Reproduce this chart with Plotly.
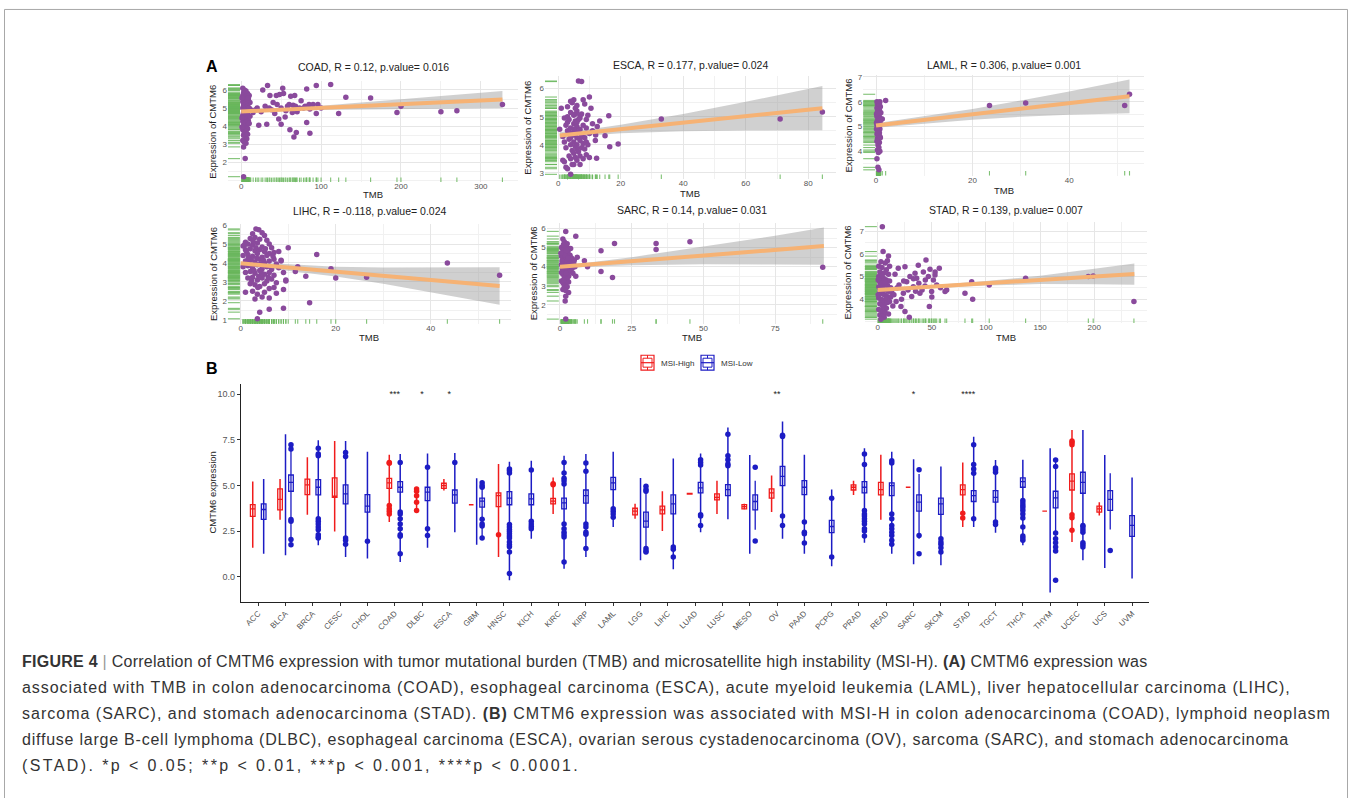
import plotly.graph_objects as go

W, H = 1352, 798

# ---------------- Panel A data (TMB, expression) ----------------
coad_pts = [(2,6.1),(4,6.0),(6,5.95),(3,5.85),(8,5.8),(5,5.75),(2,5.7),(7,5.65),(10,5.7),(4,5.6),(6,5.55),(3,5.5),(9,5.45),(5,5.4),(2,5.35),(7,5.3),(4,5.25),(11,5.3),(6,5.2),(3,5.15),(8,5.1),(5,5.05),(2,5.0),(7,4.95),(4,4.9),(9,4.85),(6,4.8),(3,4.75),(5,4.7),(8,4.65),(2,4.6),(6,4.55),(4,4.5),(7,4.45),(3,4.4),(5,4.35),(9,4.3),(2,4.25),(6,4.2),(4,4.1),(7,4.05),(3,4.0),(5,3.9),(8,3.85),(2,3.8),(6,3.7),(4,3.6),(3,3.5),(5,3.4),(7,3.3),(2,3.2),(4,3.1),(6,3.05),(3,2.85),(5,2.2),(3,1.2),
            (1,5.55),(10,5.0),(12,4.9),(1,4.45),(9,5.55),(11,4.55),(10,4.15),(1,3.95),(8,3.55),
            (15,4.75),(18,4.9),(20,5.0),(22,4.05),(25,4.8),(27,6.0),(30,5.1),(33,6.25),(32,4.1),(35,5.0),(36,5.7),(38,4.9),(40,5.3),(42,4.7),(44,5.7),(45,5.2),(47,4.4),(48,5.75),(50,4.1),(50,5.0),(52,6.1),(53,5.8),(55,4.5),(56,4.85),(58,5.1),(60,5.2),(61,3.8),(62,5.65),(64,4.75),(65,5.15),(66,3.4),(67,5.7),(68,5.1),(69,3.65),(70,4.8),(73,5.0),(75,5.4),(78,5.0),(80,5.1),(82,6.05),(82,4.2),(85,5.2),(86,4.95),(86,3.6),(90,5.2),(94,6.25),(94,4.7),(96,5.2),(100,5.0),(112,6.3),(122,4.7),(131,5.6),(162,5.55),(195,4.75),(200,5.1),(250,4.8),(270,4.85),(327,5.2)]
coad_fit_x = [0, 50, 100, 150, 200, 250, 327]
coad_fit_y = [4.81, 4.91, 5.01, 5.11, 5.21, 5.32, 5.47]
coad_ci_lo = [4.72, 4.83, 4.89, 4.91, 4.93, 4.96, 5.00]
coad_ci_hi = [4.90, 4.99, 5.13, 5.31, 5.49, 5.68, 5.94]

esca_pts = [(0.5,4.55),(1,5.3),(1.5,4.3),(2,3.4),(2,4.1),(2.5,4.7),(2.5,3.9),(3,3.15),(3,4.5),(3,5.0),(3.5,3.6),(3.5,4.2),(3.5,4.9),(4,2.95),(4,3.5),(4,4.0),(4,4.6),(4,5.15),(4.5,3.8),(4.5,4.4),(4.5,5.5),(5,3.3),(5,3.7),(5,4.1),(5,4.35),(5,4.75),(5,5.05),(5,5.6),(5.5,3.95),(5.5,4.5),(5.5,4.85),(5.5,5.3),(6,3.45),(6,4.0),(6,4.25),(6,4.65),(6,5.2),(6,5.4),(6.5,3.75),(6.5,4.45),(6.5,6.27),(7,3.6),(7,4.15),(7,4.55),(7,4.95),(7,5.05),(7.5,3.9),(7.5,4.3),(7.5,6.25),(8,3.5),(8,4.05),(8,4.7),(8,5.6),(8.5,4.25),(8.5,5.45),(9,3.65),(9,4.1),(9,4.6),(9.5,4.0),(10,5.7),(10,4.4),(10,3.55),(3,4.8),(2,4.95),(4.5,3.3),(5.5,3.55),(6.5,4.9),(7.5,5.1),(8.5,3.85),(3.5,4.45),(4,4.25),(5,4.55),(6,3.85),(7,3.3),(9,4.9),(11,4.5),(12,4.35),(12.5,4.65),(12.3,3.52),(13.3,4.85),(15,4.32),(11.9,4.15),(16.2,5.03),(16.5,3.93),(19.2,4.03),(33,4.92),(71,4.92),(84.5,5.17),(2.5,3.2),(1.5,3.45),(3,5.35),(4,5.55),(5.5,5.1),(6,4.8),(9.5,5.05),(11,4.75),(10.5,5.3)]
esca_fit_x = [0.5, 10, 20, 40, 60, 84.5]
esca_fit_y = [4.33, 4.44, 4.56, 4.79, 5.02, 5.30]
esca_ci_lo = [4.20, 4.33, 4.41, 4.48, 4.51, 4.52]
esca_ci_hi = [4.46, 4.55, 4.71, 5.10, 5.53, 6.09]

laml_pts = [(0.2,6.0),(0.5,5.95),(0.8,6.0),(0.3,5.9),(0.6,5.85),(0.9,5.8),(0.2,5.75),(0.5,5.7),(0.7,5.65),(0.3,5.6),(1.0,5.55),(0.4,5.5),(0.6,5.45),(0.2,5.4),(0.8,5.35),(0.5,5.3),(1.3,5.3),(0.3,5.25),(0.7,5.2),(0.4,5.15),(0.9,5.1),(0.2,5.05),(0.6,5.0),(0.4,4.95),(0.8,4.9),(0.3,4.85),(0.5,4.8),(0.7,4.75),(0.2,4.7),(0.6,4.65),(0.4,4.6),(0.9,4.55),(0.3,4.5),(0.5,4.45),(0.7,4.35),(0.4,4.25),(0.6,4.15),(0.3,4.05),(0.8,4.0),(0.5,3.95),(0.2,3.7),(0.4,3.35),(0.6,3.25),(2.0,6.05),(23.5,5.85),(31,5.95),(51.5,5.85),(52.5,6.3),(0.1,5.5),(0.9,5.25),(0.1,4.9),(0.8,4.6),(0.2,4.4),(0.7,5.9),(0.1,5.15),(0.5,5.55),(0.35,4.75),(0.65,5.1)]
laml_fit_x = [0, 10, 20, 30, 40, 52.5]
laml_fit_y = [5.04, 5.27, 5.49, 5.72, 5.94, 6.22]
laml_ci_lo = [4.95, 5.12, 5.27, 5.39, 5.47, 5.53]
laml_ci_hi = [5.13, 5.42, 5.71, 6.05, 6.41, 6.90]

lihc_pts = [(3.2,5.8),(3.8,5.75),(2.5,5.55),(4.5,5.6),(5,5.45),(1,5.1),(2,5.3),(3,5.35),(4,5.25),(5.5,5.2),(6,5.0),(0.5,4.9),(1.5,5.0),(2.5,4.95),(3.5,5.05),(4.5,4.85),(6.5,4.8),(7,4.55),(1,4.7),(2,4.75),(3,4.65),(4,4.7),(5,4.6),(6,4.5),(8,4.6),(0.5,4.4),(1.5,4.45),(2.5,4.35),(3.5,4.5),(4.5,4.3),(5.5,4.4),(7,4.2),(8.5,4.15),(1,4.1),(2,4.15),(3,4.05),(4,4.2),(5,4.0),(6,4.1),(7.5,3.95),(8.5,4.1),(0.5,3.8),(1.5,3.85),(2.5,3.75),(3.5,3.9),(4.5,3.7),(5.5,3.8),(6.5,3.65),(8,3.75),(1,3.5),(2,3.55),(3,3.45),(4,3.6),(5,3.4),(6,3.5),(7,3.35),(9,3.5),(1.5,3.2),(2.5,3.25),(3.5,3.1),(4.5,3.2),(5.5,3.05),(6.5,3.15),(7.5,2.95),(9.5,3.05),(1,2.45),(2,2.9),(3,2.85),(4,2.75),(5,2.9),(6,2.65),(7,2.7),(9,2.6),(2.5,2.5),(3.5,2.35),(4.5,2.2),(5,2.45),(3,2.1),(7.5,2.4),(6,2.15),(3.5,1.05),(4,1.4),(6,1.55),(9,1.6),(14.5,1.9),(10,4.8),(11.5,3.55),(12,3.8),(13.7,3.3),(16,4.45),(19,3.7),(20,3.2),(26.5,3.25),(43.5,4.0),(54.5,3.35),(9.5,3.1),(1.2,4.6),(2.2,4.2),(3.2,4.8),(4.2,3.95),(2.8,3.6),(3.8,3.3),(1.8,3.9),(4.8,4.15),(2.6,5.15),(3.4,4.25),(4.4,3.45),(5.2,4.75),(1.6,4.25),(3.6,2.7),(2.3,3.05),(0.8,4.95),(5.8,3.25),(6.8,4.35)]
lihc_fit_x = [0, 10, 20, 30, 40, 54.5]
lihc_fit_y = [3.98, 3.76, 3.54, 3.32, 3.10, 2.78]
lihc_ci_lo = [3.89, 3.60, 3.28, 2.90, 2.45, 1.79]
lihc_ci_hi = [4.07, 3.92, 3.80, 3.76, 3.76, 3.77]

sarc_pts = [(1,5.45),(1.5,5.3),(2,5.85),(2.5,5.2),(0.5,5.0),(1,4.9),(2,5.05),(3,4.95),(1.5,4.75),(2.5,4.7),(3.5,4.6),(0.5,4.55),(1,4.45),(2,4.5),(3,4.4),(4,4.45),(1.5,4.25),(2.5,4.2),(3.5,4.3),(5,4.35),(0.5,4.1),(1,4.05),(2,4.0),(3,3.95),(4,4.1),(1.5,3.85),(2.5,3.8),(3.5,3.75),(0.5,3.7),(1,3.6),(2,3.55),(3,3.5),(4.5,3.65),(1.5,3.4),(2.5,3.35),(0.5,3.25),(1,3.15),(2,3.1),(3,3.2),(1.5,3.0),(2.5,2.95),(1,2.8),(2,2.75),(3,2.65),(2,2.45),(1.8,2.2),(2,1.25),(5.5,5.6),(6,4.5),(5.5,3.5),(8.5,4.31),(9.6,4.0),(14.3,4.83),(14.3,3.74),(18.3,3.43),(19,5.22),(33.5,5.22),(33.5,4.9),(45.3,5.3),(91.6,3.97),(1.2,5.15),(2.8,4.8),(3.2,4.15),(0.8,3.9),(2.2,3.65),(4.2,3.9),(1.7,4.6),(2.7,4.45),(0.7,4.3),(3.7,4.95),(1.3,3.3),(2.3,4.85),(4.8,4.2),(0.3,4.7),(5.2,4.0)]
sarc_fit_x = [0, 10, 25, 50, 75, 92]
sarc_fit_y = [3.99, 4.11, 4.29, 4.59, 4.88, 5.08]
sarc_ci_lo = [3.90, 4.00, 4.08, 4.12, 4.11, 4.10]
sarc_ci_hi = [4.08, 4.22, 4.50, 5.05, 5.62, 6.05]

stad_pts = [(4.3,7.2),(5,6.1),(10,5.9),(3,5.65),(7,5.6),(1,5.45),(4,5.4),(8,5.3),(2,5.2),(6,5.15),(10,5.1),(1,5.0),(3,4.95),(5,4.9),(8,4.85),(11,4.8),(2,4.75),(4,4.7),(6,4.65),(9,4.6),(1,4.55),(3,4.5),(5,4.45),(7,4.4),(10,4.35),(2,4.3),(4,4.25),(6,4.2),(8,4.15),(12,4.1),(1,4.05),(3,4.0),(5,3.95),(7,3.9),(9,3.85),(2,3.8),(4,3.75),(6,3.7),(8,3.6),(1,3.55),(3,3.5),(5,3.45),(7,3.4),(10,3.35),(2,3.3),(4,3.25),(6,3.2),(3,3.12),(11,5.45),(9,5.7),(6,4.9),(4,5.05),(7,4.75),(2,4.45),(8,4.05),(5,3.65),(12,4.5),(0.5,4.85),(0.5,4.2),(11,3.9),(13,4.3),(14,3.7),
            (16,5.1),(19,5.36),(19.7,4.63),(21.5,3.68),(23.7,4.26),(25.2,5.43),(25.2,3.46),(26.8,4.77),(29.2,3.2),(29.8,5.0),(31.4,4.12),(32.9,4.55),(34.5,5.14),(36,4.92),(37.5,5.5),(39,4.26),(42.2,5.2),(43.7,4.58),(44.6,5.73),(46.8,5.0),(47.7,3.68),(48.3,5.32),(49.8,4.34),(51.4,4.85),(52.9,5.07),(54.5,4.63),(56.9,5.36),(62.2,4.34),(63.7,4.41),(80.6,4.26),(86.8,4.77),(87.7,4.0),(103,4.63),(136.6,4.92),(194.5,5.0),(199,5.02),(236.6,3.9),
            (18,4.5),(22,4.0),(28,4.4),(33,4.9),(38,4.7),(41,4.4),(50,4.1),(58,4.5),(15,4.2),(24,4.8),(35,4.35),(44,4.85),(53,5.2),(17,3.9)]
stad_fit_x = [0, 50, 100, 150, 200, 237]
stad_fit_y = [4.40, 4.55, 4.70, 4.85, 5.00, 5.11]
stad_ci_lo = [4.32, 4.48, 4.60, 4.67, 4.66, 4.64]
stad_ci_hi = [4.48, 4.62, 4.80, 5.03, 5.34, 5.57]

# ---------------- Panel B data ----------------
cats = ["ACC","BLCA","BRCA","CESC","CHOL","COAD","DLBC","ESCA","GBM","HNSC","KICH","KIRC","KIRP","LAML","LGG","LIHC","LUAD","LUSC","MESO","OV","PAAD","PCPG","PRAD","READ","SARC","SKCM","STAD","TGCT","THCA","THYM","UCEC","UCS","UVM"]

hi_q1  = [3.31,3.67,4.51,4.36,None,4.85,None,4.85,3.95,3.85,None,4.00,None,None,3.40,3.45,4.53,4.22,3.73,4.31,None,None,4.76,4.49,4.91,None,4.49,None,None,3.60,4.76,3.55,None]
hi_med = [3.73,4.24,5.04,4.42,None,5.15,None,5.00,3.95,4.45,None,4.15,None,None,3.60,3.67,4.55,4.36,3.85,4.60,None,None,4.91,4.78,4.91,None,4.78,None,None,3.60,5.24,3.73,None]
hi_q3  = [3.96,4.82,5.36,5.42,None,5.40,None,5.13,3.95,4.60,None,4.30,None,None,3.76,3.87,4.57,4.55,3.96,4.82,None,None,5.04,5.18,4.91,None,5.04,None,None,3.60,5.64,3.87,None]
hi_vmin = [1.60,3.13,3.40,2.49,None,3.00,3.64,4.73,None,1.09,None,3.45,None,None,3.18,2.51,None,3.45,3.70,3.55,None,None,4.49,3.13,None,None,2.73,None,None,None,1.91,3.36,None]
hi_vmax = [5.22,5.36,6.55,7.45,None,6.69,4.85,5.36,None,6.18,None,5.45,None,None,4.00,4.69,None,5.27,4.00,5.55,None,None,5.27,6.69,None,None,6.27,None,None,None,8.05,4.09,None]
hi_out = [[],[],[],[],[],[6.27,6.22,3.91,3.73,3.60,3.45],[4.82,4.69,4.45,4.09,3.64],[],[],[2.31],[],[5.10,5.05],[],[],[],[],[],[],[],[],[],[],[],[],[],[],[3.49,3.22],[],[],[],[7.45,7.36,7.24,3.40,3.24,2.55],[],[]]

lo_q1  = [3.15,4.69,4.49,4.00,3.55,4.64,4.18,4.04,3.82,3.95,3.95,3.73,4.04,4.78,2.73,3.45,4.60,4.45,3.67,5.00,4.51,2.42,4.60,4.45,3.60,3.42,4.13,4.09,4.91,3.78,4.58,3.64,2.22]
lo_med = [3.69,5.18,4.91,4.55,3.87,4.91,4.64,4.49,4.15,4.31,4.27,4.05,4.45,5.15,3.05,4.00,4.87,4.78,4.13,5.51,4.91,2.76,4.91,5.00,4.09,4.00,4.45,4.36,5.22,4.33,5.18,4.24,2.82]
lo_q3  = [4.00,5.58,5.33,5.04,4.51,5.22,4.91,4.76,4.31,4.67,4.55,4.31,4.76,5.45,3.55,4.49,5.18,5.05,4.49,6.05,5.27,3.09,5.22,5.15,4.49,4.31,4.73,4.73,5.42,4.69,5.73,4.73,3.36]
lo_vmin = [1.27,1.18,1.73,1.09,1.00,0.82,1.60,2.45,1.76,-0.18,2.09,0.45,1.09,2.73,0.91,0.42,2.45,3.15,1.27,2.09,1.27,0.58,1.87,1.27,0.69,0.64,2.73,2.42,1.73,-0.85,0.91,0.49,-0.09]
lo_vmax = [5.36,7.82,7.49,7.45,6.85,6.73,6.76,6.78,5.40,6.31,6.36,6.64,6.73,6.85,5.42,6.49,6.76,8.18,6.67,8.51,6.69,4.78,7.04,6.85,6.45,6.05,7.67,6.40,6.42,7.05,8.05,6.67,5.45]
lo_out = [[],[7.24,7.00,3.14,3.05,2.05,1.76],[7.04,6.73,6.64,3.18,3.05,2.90,2.73,2.58,2.31,2.18,2.13],[6.82,6.60,2.13,2.00,1.78],[1.95],
          [6.27,3.55,3.45,3.18,2.90,2.64,2.31,2.22,1.27],[6.00,2.64,2.27],[6.27],[5.15,5.00,4.91,3.15,2.90,2.78,2.13],
          [5.91,5.82,5.69,2.87,2.73,2.60,2.49,2.36,2.24,2.13,1.91,1.76,1.65,1.36,0.18],[5.85,3.04,2.90,2.76,2.64],
          [6.27,5.69,5.40,5.27,5.09,2.90,2.64,2.45,2.31,2.18,0.82],[6.24,5.78,2.90,2.73,2.45,2.33,1.55],[3.73,3.60,3.45,3.27],
          [4.96,4.78,4.69,1.55,1.42,1.36],[1.64,1.51,1.09],[6.42,6.27,6.13,3.40,3.33,2.82],[7.82,6.64,6.42,6.18,6.09],[6.00,1.96],
          [7.76,7.69,3.33,2.82],[3.00,2.45,2.36,1.85],[4.31,1.09],[6.73,6.15,3.64,3.45,3.33,3.18,3.04,2.90,2.64,2.51,2.24],
          [6.36,6.24,3.45,3.18,2.82,2.64,2.45,2.27,2.00,1.78],[5.87,2.27,1.27],[2.09,1.91,1.78,1.60,1.36],[7.24,6.15,5.91,5.67,3.18],
          [5.96,5.87,5.73,3.00,2.87],[4.18,4.05,3.91,3.78,3.64,3.45,3.22,2.73,2.24,2.13,2.00],[6.40,6.05,2.40,2.09,1.87,1.64,1.42,-0.18],
          [2.82,2.73,2.58,2.45,1.87,1.76,1.64],[1.45],[]]
# MSI-Low whiskers drawn apart from a centred violin (groups where the MSI-High violin is absent)
lo_whisk = {"BLCA": (1.76, 7.24), "GBM": (2.13, 5.15), "LGG": (1.36, 4.96), "MESO": (2.58, 5.27),
            "SARC": (2.09, 5.64), "THYM": (1.42, 6.40), "UCS": (2.60, 5.67)}

sig_cats = ["COAD", "DLBC", "ESCA", "OV", "SARC", "STAD"]
sig_labels = ["***", "*", "*", "**", "*", "****"]
sig_y = 10

caption_lines = [
    "<b>FIGURE 4</b> <span style='color:#999'>|</span> Correlation of CMTM6 expression with tumor mutational burden (TMB) and microsatellite high instability (MSI-H). <b>(A)</b> CMTM6 expression was",
    "associated with TMB in colon adenocarcinoma (COAD), esophageal carcinoma (ESCA), acute myeloid leukemia (LAML), liver hepatocellular carcinoma (LIHC),",
    "sarcoma (SARC), and stomach adenocarcinoma (STAD). <b>(B)</b> CMTM6 expression was associated with MSI-H in colon adenocarcinoma (COAD), lymphoid neoplasm",
    "diffuse large B-cell lymphoma (DLBC), esophageal carcinoma (ESCA), ovarian serous cystadenocarcinoma (OV), sarcoma (SARC), and stomach adenocarcinoma",
    "(STAD). *p &lt; 0.05; **p &lt; 0.01, ***p &lt; 0.001, ****p &lt; 0.0001.",
]
caption_spacing = [0.26, 0.93, 1.0, 0.77, 2.4]

# ---------------- styling / layout ----------------
FONT = "Liberation Sans, Arial, sans-serif"
PURPLE = "#8a4a9c"
GREEN = "rgba(104,182,92,0.85)"
ORANGE = "#f6b274"
BAND = "rgba(150,150,150,0.45)"
RED = "#f01c1c"
BLUE = "#1c1cc4"


def px_x(p):
    return p / W


def px_y(p):
    return 1 - p / H


panels = [
    dict(title="COAD, R = 0.12, p.value= 0.016", pts=coad_pts, fx=coad_fit_x, fy=coad_fit_y, lo=coad_ci_lo, hi=coad_ci_hi,
         xpx=(228, 518), ypx=(78.7, 180), xr=[-16.5, 346.5], yr=[0.9, 6.48], xt=[0, 100, 200, 300], yt=[2, 3, 4, 5, 6],
         ty=64, ylx=213, xly=192),
    dict(title="ESCA, R = 0.177, p.value= 0.024", pts=esca_pts, fx=esca_fit_x, fy=esca_fit_y, lo=esca_ci_lo, hi=esca_ci_hi,
         xpx=(545, 835.5), ypx=(73.6, 177), xr=[-4.2, 88.7], yr=[2.78, 6.44], xt=[0, 20, 40, 60, 80], yt=[3, 4, 5, 6],
         ty=62, ylx=528, xly=191),
    dict(title="LAML, R = 0.306, p.value= 0.001", pts=laml_pts, fx=laml_fit_x, fy=laml_fit_y, lo=laml_ci_lo, hi=laml_ci_hi,
         xpx=(863.2, 1144), ypx=(72.8, 173.4), xr=[-2.65, 55.5], yr=[3.02, 7.06], xt=[0, 20, 40], yt=[4, 5, 6, 7],
         ty=62.5, ylx=848, xly=188),
    dict(title="LIHC, R = -0.118, p.value= 0.024", pts=lihc_pts, fx=lihc_fit_x, fy=lihc_fit_y, lo=lihc_ci_lo, hi=lihc_ci_hi,
         xpx=(227.9, 511), ypx=(222.5, 322.3), xr=[-2.7, 56.9], yr=[0.79, 6.04], xt=[0, 20, 40], yt=[1, 2, 3, 4, 5, 6],
         ty=209, ylx=213, xly=336),
    dict(title="SARC, R = 0.14, p.value= 0.031", pts=sarc_pts, fx=sarc_fit_x, fy=sarc_fit_y, lo=sarc_ci_lo, hi=sarc_ci_hi,
         xpx=(546.8, 836.8), ypx=(221.1, 322.3), xr=[-4.6, 96.5], yr=[1.01, 6.29], xt=[0, 25, 50, 75], yt=[2, 3, 4, 5, 6],
         ty=208, ylx=533, xly=336),
    dict(title="STAD, R = 0.139, p.value= 0.007", pts=stad_pts, fx=stad_fit_x, fy=stad_fit_y, lo=stad_ci_lo, hi=stad_ci_hi,
         xpx=(864.9, 1146.7), ypx=(220.2, 321.6), xr=[-11.8, 248.4], yr=[2.95, 7.4], xt=[0, 50, 100, 150, 200], yt=[4, 5, 6, 7],
         ty=208, ylx=848, xly=336),
]

fig = go.Figure()
layout = dict(width=W, height=H, margin=dict(l=0, r=0, t=0, b=0), paper_bgcolor="white", plot_bgcolor="white",
              showlegend=False, font=dict(family=FONT))
annotations = []
shapes = []

RUG_Y_LEN = 12   # px
RUG_X_LEN = 4.5  # px

for i, p in enumerate(panels):
    n = "" if i == 0 else str(i + 1)
    xa, ya = "x" + n, "y" + n
    sx = (p["xpx"][1] - p["xpx"][0]) / (p["xr"][1] - p["xr"][0])
    sy = (p["ypx"][1] - p["ypx"][0]) / (p["yr"][1] - p["yr"][0])
    xs = [q[0] for q in p["pts"]]
    ys = [q[1] for q in p["pts"]]
    # ribbon
    fig.add_trace(go.Scatter(x=p["fx"], y=p["hi"], mode="lines", line=dict(width=0), xaxis=xa, yaxis=ya, hoverinfo="skip"))
    fig.add_trace(go.Scatter(x=p["fx"], y=p["lo"], mode="lines", line=dict(width=0), fill="tonexty", fillcolor=BAND,
                             xaxis=xa, yaxis=ya, hoverinfo="skip"))
    # rugs (line markers are 1.4 x size long)
    fig.add_trace(go.Scatter(x=[p["xr"][0] + (RUG_Y_LEN / 2) / sx] * len(ys), y=ys, mode="markers", xaxis=xa, yaxis=ya,
                             cliponaxis=False,
                             marker=dict(symbol="line-ew", size=RUG_Y_LEN / 1.4, line=dict(color=GREEN, width=1.1)),
                             hoverinfo="skip"))
    fig.add_trace(go.Scatter(x=xs, y=[p["yr"][0] + (RUG_X_LEN / 2) / sy] * len(xs), mode="markers", xaxis=xa, yaxis=ya,
                             cliponaxis=False,
                             marker=dict(symbol="line-ns", size=RUG_X_LEN / 1.4, line=dict(color=GREEN, width=1.1)),
                             hoverinfo="skip"))
    # points
    fig.add_trace(go.Scatter(x=xs, y=ys, mode="markers", xaxis=xa, yaxis=ya,
                             marker=dict(color=PURPLE, size=5.5), hoverinfo="skip"))
    # fit line
    fig.add_trace(go.Scatter(x=p["fx"], y=p["fy"], mode="lines", line=dict(color=ORANGE, width=4), xaxis=xa, yaxis=ya,
                             hoverinfo="skip"))
    xstep = p["xt"][1] - p["xt"][0]
    layout["xaxis" + n] = dict(domain=[px_x(p["xpx"][0]), px_x(p["xpx"][1])], range=p["xr"], anchor=ya,
                               tickmode="array", tickvals=p["xt"], showgrid=True, gridcolor="#e6e6e6", gridwidth=1,
                               zeroline=False, showline=False, ticks="", tickfont=dict(size=8, color="#555"),
                               ticklabelstandoff=-2,
                               minor=dict(tick0=0, dtick=xstep / 2, showgrid=True, gridcolor="#f1f1f1", gridwidth=0.6))
    layout["yaxis" + n] = dict(domain=[px_y(p["ypx"][1]), px_y(p["ypx"][0])], range=p["yr"], anchor=xa,
                               tickmode="array", tickvals=p["yt"], showgrid=True, gridcolor="#e6e6e6", gridwidth=1,
                               zeroline=False, showline=False, ticks="", tickfont=dict(size=8, color="#555"),
                               minor=dict(tick0=0, dtick=0.5, showgrid=True, gridcolor="#f1f1f1", gridwidth=0.6))
    cx = (p["xpx"][0] + p["xpx"][1]) / 2
    cy = (p["ypx"][0] + p["ypx"][1]) / 2
    annotations.append(dict(text=p["title"], x=px_x(cx), y=px_y(p["ty"]), xref="paper", yref="paper", showarrow=False,
                            xanchor="center", yanchor="middle", font=dict(size=10.5, color="#222")))
    annotations.append(dict(text="Expression of CMTM6", x=px_x(p["ylx"]), y=px_y(cy), xref="paper", yref="paper",
                            showarrow=False, textangle=-90, xanchor="center", yanchor="middle",
                            font=dict(size=9.5, color="#222")))
    annotations.append(dict(text="TMB", x=px_x(cx), y=px_y(p["xly"]), xref="paper", yref="paper",
                            showarrow=False, xanchor="center", yanchor="middle", font=dict(size=9.5, color="#222")))

# ---------------- Panel B ----------------
xa, ya = "x7", "y7"
has_hi = [(hi_q1[i] is not None) or (hi_vmin[i] is not None) or len(hi_out[i]) > 0 for i in range(len(cats))]
dodge = 0.2
hi_pos = [i - dodge for i in range(len(cats))]
lo_pos = [i + dodge if has_hi[i] else i for i in range(len(cats))]
lo_vpos = [i if (not has_hi[i] or cats[i] in lo_whisk) else i + dodge for i in range(len(cats))]


def seg_trace(xl, lo_l, hi_l, color, width):
    X, Y = [], []
    for x, a, b in zip(xl, lo_l, hi_l):
        if a is None or b is None:
            continue
        X += [x, x, None]
        Y += [a, b, None]
    return go.Scatter(x=X, y=Y, mode="lines", line=dict(color=color, width=width), xaxis=xa, yaxis=ya,
                      hoverinfo="skip", connectgaps=False)


fig.add_trace(seg_trace(hi_pos, hi_vmin, hi_vmax, RED, 1.5))
fig.add_trace(seg_trace(lo_vpos, lo_vmin, lo_vmax, BLUE, 1.5))
wc = [c for c in cats if c in lo_whisk]
fig.add_trace(seg_trace([lo_pos[cats.index(c)] for c in wc], [lo_whisk[c][0] for c in wc],
                        [lo_whisk[c][1] for c in wc], BLUE, 1.3))

for pos, q1, md, q3, col in [(hi_pos, hi_q1, hi_med, hi_q3, RED), (lo_pos, lo_q1, lo_med, lo_q3, BLUE)]:
    idx = [i for i in range(len(cats)) if q1[i] is not None]
    fig.add_trace(go.Box(x=[pos[i] for i in idx], q1=[q1[i] for i in idx], median=[md[i] for i in idx],
                         q3=[q3[i] for i in idx], lowerfence=[q1[i] for i in idx], upperfence=[q3[i] for i in idx],
                         width=0.17, fillcolor="white", line=dict(color=col, width=1.3), boxpoints=False,
                         xaxis=xa, yaxis=ya, hoverinfo="skip"))

for pos, outs, col in [(hi_pos, hi_out, RED), (lo_pos, lo_out, BLUE)]:
    X, Y = [], []
    for i, o in enumerate(outs):
        X += [pos[i]] * len(o)
        Y += o
    fig.add_trace(go.Scatter(x=X, y=Y, mode="markers", marker=dict(color=col, size=5.5), xaxis=xa, yaxis=ya,
                             hoverinfo="skip", cliponaxis=False))

fig.add_trace(go.Scatter(x=[cats.index(c) for c in sig_cats], y=[sig_y] * len(sig_cats), mode="text", text=sig_labels,
                         textfont=dict(size=9, color="#222"), textposition="middle center", xaxis=xa, yaxis=ya,
                         hoverinfo="skip", cliponaxis=False))

layout["xaxis7"] = dict(domain=[px_x(241), px_x(1149)], range=[-0.63, 32.62], anchor=ya, tickmode="array",
                        tickvals=list(range(len(cats))), ticktext=cats, tickangle=-45, ticks="outside", ticklen=3,
                        tickcolor="#333", showline=True, linecolor="#222", linewidth=1.2, showgrid=False, zeroline=False,
                        tickfont=dict(size=8, color="#555"))
layout["yaxis7"] = dict(domain=[px_y(601.7), px_y(383.4)], range=[-1.36, 10.54], anchor=xa, tickmode="array",
                        tickvals=[0, 2.5, 5, 7.5, 10], ticktext=["0.0", "2.5", "5.0", "7.5", "10.0"], ticks="outside",
                        ticklen=3, tickcolor="#333", showline=True, linecolor="#222", linewidth=1.2, showgrid=False,
                        zeroline=False, tickfont=dict(size=9, color="#555"))

annotations.append(dict(text="CMTM6 expression", x=px_x(213), y=px_y(492), xref="paper", yref="paper", showarrow=False,
                        textangle=-90, xanchor="center", yanchor="middle", font=dict(size=9.5, color="#222")))
annotations.append(dict(text="<b>A</b>", x=px_x(212), y=px_y(64), xref="paper", yref="paper", showarrow=False,
                        xanchor="center", yanchor="middle", font=dict(size=16, color="black")))
annotations.append(dict(text="<b>B</b>", x=px_x(212), y=px_y(367), xref="paper", yref="paper", showarrow=False,
                        xanchor="center", yanchor="middle", font=dict(size=16, color="black")))

# manual legend (box + violin key)
for (x0, col, label, tx) in [(641, RED, "MSI-High", 659), (701, BLUE, "MSI-Low", 719)]:
    shapes.append(dict(type="rect", xref="paper", yref="paper", x0=px_x(x0), x1=px_x(x0 + 13), y0=px_y(369), y1=px_y(354),
                       line=dict(color=col, width=1.2)))
    shapes.append(dict(type="rect", xref="paper", yref="paper", x0=px_x(x0 + 2), x1=px_x(x0 + 11), y0=px_y(366), y1=px_y(357),
                       line=dict(color=col, width=1)))
    shapes.append(dict(type="line", xref="paper", yref="paper", x0=px_x(x0), x1=px_x(x0 + 13), y0=px_y(361.5), y1=px_y(361.5),
                       line=dict(color=col, width=1.2)))
    for (a, b) in [(354, 357), (366, 369)]:
        shapes.append(dict(type="line", xref="paper", yref="paper", x0=px_x(x0 + 6.5), x1=px_x(x0 + 6.5), y0=px_y(a),
                           y1=px_y(b), line=dict(color=col, width=1)))
    annotations.append(dict(text=label, x=px_x(tx), y=px_y(362), xref="paper", yref="paper", showarrow=False,
                            xanchor="left", yanchor="middle", font=dict(size=8, color="#333")))

# caption
for k, line in enumerate(caption_lines):
    txt = "<span style='letter-spacing:%.2fpx'>%s</span>" % (caption_spacing[k], line)
    annotations.append(dict(text=txt, x=px_x(20), y=px_y(662 + 26.2 * k), xref="paper", yref="paper", showarrow=False,
                            xanchor="left", yanchor="middle", align="left", font=dict(size=16, color="#333", family=FONT)))

shapes.append(dict(type="rect", xref="paper", yref="paper", x0=px_x(4.5), x1=px_x(1347.5), y0=px_y(830), y1=px_y(6.5),
                   line=dict(color="#a8a8a8", width=1)))

layout["annotations"] = annotations
layout["shapes"] = shapes
fig.update_layout(**layout)
fig.write_html("out.html")
